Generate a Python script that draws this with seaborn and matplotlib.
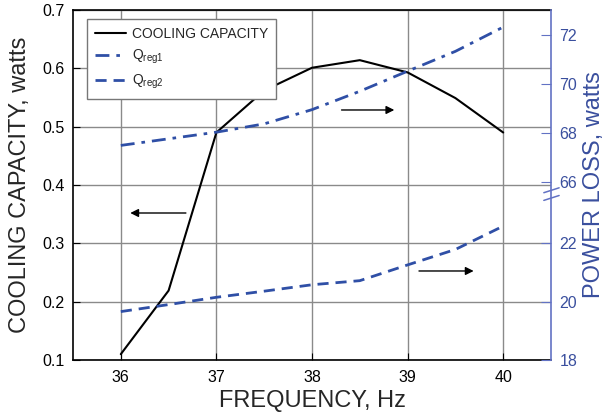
import numpy as np
import pandas as pd
import matplotlib
matplotlib.use("Agg")
import matplotlib.pyplot as plt
import seaborn as sns

# ---- data ----
freq = [36, 36.5, 37, 37.5, 38, 38.5, 39, 39.5, 40]
cooling = [0.110, 0.219, 0.490, 0.562, 0.601, 0.614, 0.593, 0.549, 0.490]
q_reg1 = [67.48, 67.75, 68.02, 68.36, 68.94, 69.69, 70.51, 71.32, 72.31]
q_reg2 = [19.66, 19.90, 20.15, 20.36, 20.58, 20.72, 21.26, 21.79, 22.59]
x_ticks = [36, 37, 38, 39, 40]
left_ticks = [0.1, 0.2, 0.3, 0.4, 0.5, 0.6, 0.7]
right_ticks = [18, 20, 22, 66, 68, 70, 72]

sns.set_style("ticks")
plt.rcParams['font.family'] = ['Liberation Sans', 'DejaVu Sans']
plt.rcParams['mathtext.fontset'] = 'custom'
plt.rcParams['mathtext.rm'] = 'Liberation Sans'
plt.rcParams['mathtext.it'] = 'Liberation Sans'

BLUE = '#2f4fa6'
BLUE_TXT = '#3a4f9e'
BLUE_SPINE = '#6272c4'

fig = plt.figure(figsize=(6.04, 4.16), dpi=100)
ax = fig.add_axes([73/604, 1-360/416, (551-73)/604, 350/416])

df = pd.DataFrame({'freq': freq, 'cooling': cooling,
                   'q1': q_reg1, 'q2': q_reg2})

sns.lineplot(data=df, x='freq', y='cooling', ax=ax, color='black',
             lw=1.5, label='COOLING CAPACITY', legend=False)

ax.set_xlim(35.5, 40.5)
ax.set_ylim(0.1, 0.7)
ax.set_xticks(x_ticks)
ax.set_yticks(left_ticks)
ax.set_yticklabels([f"{t:.1f}" for t in left_ticks])
ax.grid(True, color='#8a8a8a', lw=1.0)
ax.set_axisbelow(True)
ax.tick_params(direction='in', labelsize=11.5, length=5, colors='black')
ax.tick_params(axis='y', pad=6)
ax.tick_params(axis='x', pad=7)
ax.set_xlabel('FREQUENCY, Hz', fontsize=17, labelpad=4)
ax.set_ylabel('COOLING CAPACITY, watts', fontsize=17, labelpad=8)
for s in ['left', 'bottom', 'top']:
    ax.spines[s].set_color('black')
    ax.spines[s].set_linewidth(1.2)
ax.spines['right'].set_visible(False)

# broken right axis via piecewise-linear function scale
lo_v, hi_v = 24.0, 66.0
vs = [-1000.0, lo_v, hi_v, 1000.0]
ys = [0.1 + 0.05*(-1000-18), 0.1 + 0.05*(lo_v-18), 0.4057,
      0.4057 + 0.042*(1000-66)]

def fwd(v):
    return np.interp(v, vs, ys)

def inv(y):
    return np.interp(y, ys, vs)

ax2 = ax.twinx()
ax2.set_yscale('function', functions=(fwd, inv))
ax2.set_ylim(18, float(inv(0.7)))
sns.lineplot(data=df, x='freq', y='q1', ax=ax2, color=BLUE, lw=2,
             linestyle=(0, (5, 2.5, 1.3, 2.5)), label=r'Q$_{\mathrm{reg1}}$', legend=False)
sns.lineplot(data=df, x='freq', y='q2', ax=ax2, color=BLUE, lw=2,
             linestyle=(0, (4, 2.5)), label=r'Q$_{\mathrm{reg2}}$', legend=False)
ax2.set_yticks(right_ticks)
ax2.yaxis.set_minor_locator(matplotlib.ticker.NullLocator())
ax2.set_yticklabels([str(t) for t in right_ticks])
ax2.tick_params(axis='y', direction='in', labelsize=11.5, length=7,
                colors=BLUE_SPINE, labelcolor=BLUE_TXT, pad=6)
ax2.set_ylabel('POWER LOSS, watts', fontsize=17, color=BLUE_TXT, labelpad=4)
ax2.set_xlabel('')
ax2.spines['right'].set_color(BLUE_SPINE)
ax2.spines['right'].set_linewidth(1.2)
for s in ['left', 'top', 'bottom']:
    ax2.spines[s].set_visible(False)
ax2.set_xlim(35.5, 40.5)

# break marks on the right axis
for dy in (0.0, -0.022):
    ax2.plot([0.985, 1.017], [0.478 + dy, 0.492 + dy], transform=ax2.transAxes,
             color=BLUE_SPINE, lw=1.1, clip_on=False)

# arrows
arrow_kw = dict(arrowstyle='-|>', color='black', lw=1.0, mutation_scale=12)
ax.annotate('', xy=(36.07, 0.352), xytext=(36.71, 0.352), arrowprops=arrow_kw)
ax.annotate('', xy=(38.89, 0.5286), xytext=(38.28, 0.5286), arrowprops=arrow_kw)
ax.annotate('', xy=(39.72, 0.2526), xytext=(39.09, 0.2526), arrowprops=arrow_kw)

h1, l1 = ax.get_legend_handles_labels()
h2, l2 = ax2.get_legend_handles_labels()
leg = ax2.legend(h1 + h2, l1 + l2, loc='upper left', bbox_to_anchor=(0.029, 0.974),
                 borderaxespad=0, fontsize=10, frameon=True, fancybox=False,
                 edgecolor='#777777', framealpha=1, handlelength=2.3,
                 handletextpad=0.4, labelspacing=0.5, borderpad=0.55)
leg.get_frame().set_linewidth(1.0)

fig.savefig('out.png', dpi=100)
